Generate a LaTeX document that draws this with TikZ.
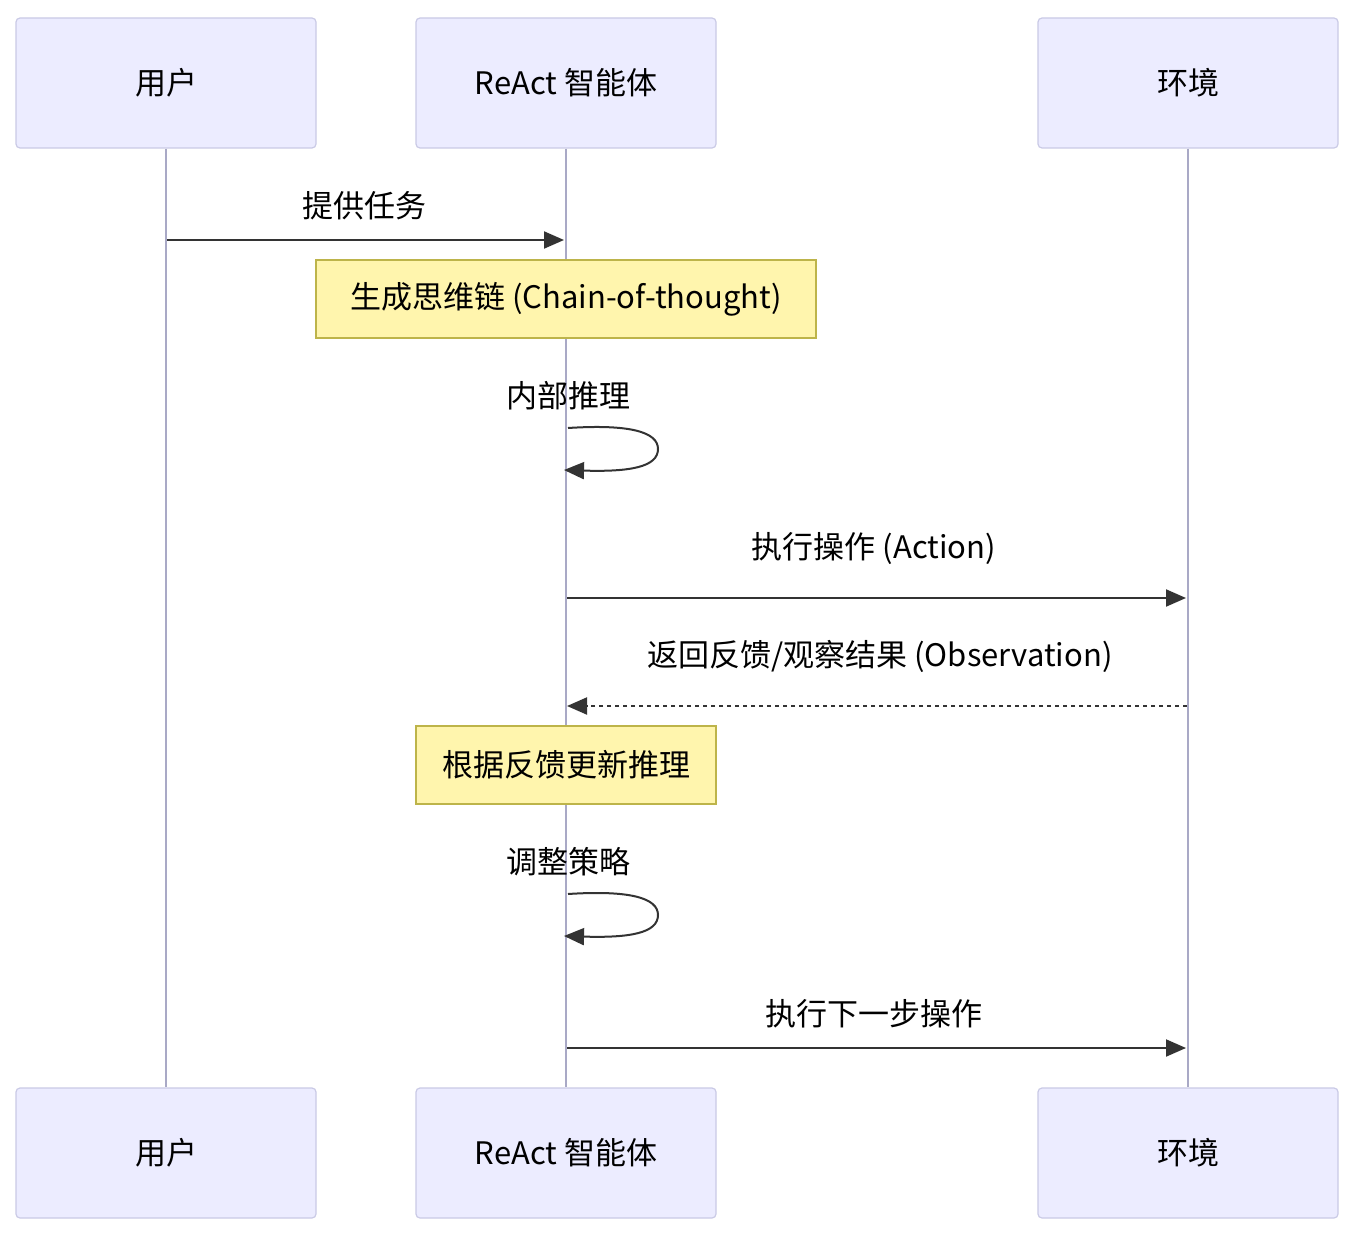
\documentclass[tikz,border=0pt]{standalone}
\usepackage{fontspec}
\setmainfont{Noto Sans CJK SC}
\usetikzlibrary{arrows.meta}
\definecolor{actfill}{HTML}{ECECFF}
\definecolor{actdraw}{HTML}{CACAE6}
\definecolor{lifec}{HTML}{A9A9C6}
\definecolor{notefill}{HTML}{FFF5AD}
\definecolor{notedraw}{HTML}{BDB44A}
\definecolor{msgc}{HTML}{333333}
\tikzset{
  actor/.style={draw=actdraw, fill=actfill, line width=1.2pt, rounded corners=4pt,
    minimum width=300pt, minimum height=130pt, inner sep=0pt, font=\fontsize{31}{36}\selectfont, text=black},
  notebox/.style={draw=notedraw, fill=notefill, line width=1.5pt,
    minimum height=78pt, inner sep=0pt, font=\fontsize{31}{36}\selectfont, text=black},
  life/.style={draw=lifec, line width=1.6pt},
  msg/.style={draw=msgc, line width=2pt, -{Triangle[length=20pt,width=17pt]}},
  dmsg/.style={msg, dash pattern=on 4pt off 4pt},
  lbl/.style={font=\fontsize{31}{36}\selectfont, text=black, inner sep=0pt}
}
\begin{document}
\begin{tikzpicture}[x=1pt,y=-1pt]
\useasboundingbox[fill=white] (0,0) rectangle (1352,1236);
% actors
\node[actor] (u1) at (166,83) {用户};
\node[actor] (a1) at (566,83) {ReAct 智能体};
\node[actor] (e1) at (1188,83) {环境};
\node[actor] (u2) at (166,1153) {用户};
\node[actor] (a2) at (566,1153) {ReAct 智能体};
\node[actor] (e2) at (1188,1153) {环境};
% lifelines
\draw[life] (u1.south) -- (u2.north);
\draw[life] (a1.south) -- (a2.north);
\draw[life] (e1.south) -- (e2.north);
% message 1
\coordinate (m1s) at (167,240);
\coordinate (m1e) at (564,240);
\node[lbl] (l1) at (364,206) {提供任务};
\draw[msg] (m1s) -- (m1e);
% note 1
\node[notebox, minimum width=500pt] (n1) at (566,299) {生成思维链 (Chain-of-thought)};
% self loop 1
\node[lbl] (l2) at (568,396) {内部推理};
\coordinate (s1a) at (568,428);
\coordinate (s1b) at (564,470);
\draw[msg] (s1a) .. controls (630,424) and (658,432) .. (658,449)
  .. controls (658,467) and (630,472) .. (s1b);
% message 3
\node[lbl] (l3) at (874,548) {执行操作 (Action)};
\coordinate (m3s) at (567,598);
\coordinate (m3e) at (1186,598);
\draw[msg] (m3s) -- (m3e);
% message 4 dashed
\node[lbl] (l4) at (880,656) {返回反馈/观察结果 (Observation)};
\coordinate (m4s) at (1187,706);
\coordinate (m4e) at (567,706);
\draw[dmsg] (m4s) -- (m4e);
% note 2
\node[notebox, minimum width=300pt] (n2) at (566,765) {根据反馈更新推理};
% self loop 2
\node[lbl] (l5) at (568,862) {调整策略};
\coordinate (s2a) at (568,894);
\coordinate (s2b) at (564,936);
\draw[msg] (s2a) .. controls (630,890) and (658,898) .. (658,915)
  .. controls (658,933) and (630,938) .. (s2b);
% message 6
\node[lbl] (l6) at (874,1014) {执行下一步操作};
\coordinate (m6s) at (567,1048);
\coordinate (m6e) at (1186,1048);
\draw[msg] (m6s) -- (m6e);
\end{tikzpicture}
\end{document}
